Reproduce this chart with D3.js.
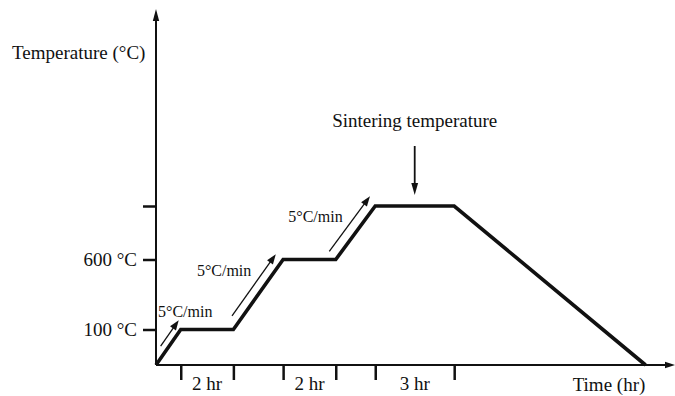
<!DOCTYPE html>
<html>
<head>
<meta charset="utf-8">
<script src="https://cdn.jsdelivr.net/npm/d3@7"></script>
<style>
  html, body { margin: 0; padding: 0; background: #fff; }
  svg { display: block; }
  text { font-family: "Liberation Serif", "Times New Roman", serif; fill: #111; }
</style>
</head>
<body>
<svg id="chart" width="675" height="396"></svg>
<script>
// ---- data (schematic firing profile) ----
const times = [0, 0.94, 2.94, 4.83, 6.83, 8.33, 11.33, 18.6];      // hours
const temps = [25, 100, 100, 600, 600, 1000, 1000, 25];             // °C (schematic)
const yTickValues = [100, 600, 1000];
const yTickLabels = ["100 °C", "600 °C", ""];
const xTickTimes = [0.94, 2.94, 4.83, 6.83, 8.33, 11.33];
const holdLabels = ["2 hr", "2 hr", "3 hr"];
const rampLabels = ["5°C/min", "5°C/min", "5°C/min"];
const yTitle = "Temperature (°C)";
const xTitle = "Time (hr)";
const sinterLabel = "Sintering temperature";

const svg = d3.select("#chart");
const W = 675, H = 396;
const x0 = 156, yAxisPos = 365;

const x = d3.scaleLinear().domain([0, 19.72]).range([x0, W]);
// schematic (piecewise) temperature axis
const y = d3.scaleLinear().domain([25, 100, 600, 1000]).range([yAxisPos, 329.5, 259.5, 206]);

function arrowHead(g, tipX, tipY, dx, dy, len, halfW) {
  const L = Math.hypot(dx, dy), ux = dx / L, uy = dy / L;
  const bx = tipX - ux * len, by = tipY - uy * len;
  const px = -uy, py = ux;
  g.append("path")
    .attr("d", `M${tipX},${tipY}L${bx + px * halfW},${by + py * halfW}L${bx - px * halfW},${by - py * halfW}Z`)
    .attr("fill", "#111");
}

// ---- axes ----
const axes = svg.append("g");
axes.append("line").attr("x1", x0).attr("x2", x0).attr("y1", yAxisPos).attr("y2", 14)
  .attr("stroke", "#111").attr("stroke-width", 2);
arrowHead(axes, x0, 9, 0, -1, 12, 3.2);
axes.append("line").attr("x1", x0).attr("x2", W - 6).attr("y1", yAxisPos).attr("y2", yAxisPos)
  .attr("stroke", "#111").attr("stroke-width", 1.8);
arrowHead(axes, W, yAxisPos, 1, 0, 10, 3.2);

// y ticks via d3 axis
const yAxis = d3.axisLeft(y).tickValues(yTickValues).tickSize(13).tickPadding(6)
  .tickFormat((d, i) => yTickLabels[i]);
const gy = svg.append("g").attr("transform", `translate(${x0},0)`).call(yAxis);
gy.select(".domain").remove();
gy.selectAll(".tick line").attr("stroke", "#111").attr("stroke-width", 2.5);
gy.selectAll(".tick text").attr("font-size", 19).attr("dy", "0.3em")
  .style("font-family", "'Liberation Serif', serif").attr("fill", "#111");

// x ticks via d3 axis
const xAxis = d3.axisBottom(x).tickValues(xTickTimes).tickSize(15).tickFormat("");
const gx = svg.append("g").attr("transform", `translate(0,${yAxisPos})`).call(xAxis);
gx.select(".domain").remove();
gx.selectAll(".tick line").attr("stroke", "#111").attr("stroke-width", 2.5);

// hold labels between ticks
holdLabels.forEach((lab, i) => {
  const a = xTickTimes[i * 2], b = xTickTimes[i * 2 + 1];
  svg.append("text").attr("x", x((a + b) / 2)).attr("y", 390)
    .attr("text-anchor", "middle").attr("font-size", 19).text(lab);
});

// titles
svg.append("text").attr("x", 12).attr("y", 59).attr("font-size", 19).text(yTitle);
svg.append("text").attr("x", 609).attr("y", 391).attr("text-anchor", "middle")
  .attr("font-size", 19).text(xTitle);

// ---- profile ----
const pts = times.map((t, i) => [t, temps[i]]);
svg.append("path").datum(pts)
  .attr("d", d3.line().x(d => x(d[0])).y(d => y(d[1])))
  .attr("fill", "none").attr("stroke", "#111").attr("stroke-width", 3.6)
  .attr("stroke-linejoin", "miter");

// ---- ramp arrows & rate labels ----
const ramps = [[0, 1], [2, 3], [4, 5]];
const rampArrowSpan = [[0.42, 1.15], [0.12, 1.0], [0.04, 1.07]];
const rampOffset = [7, 9, 10];
const labelOffsets = [[2, -48], [-36.5, -53.5], [-47.5, -37.5]];
ramps.forEach(([a, b], i) => {
  const sx = x(times[a]), sy = y(temps[a]), ex = x(times[b]), ey = y(temps[b]);
  const dx = ex - sx, dy = ey - sy, L = Math.hypot(dx, dy);
  const ux = dx / L, uy = dy / L;
  const px = uy, py = -ux;
  const off = rampOffset[i];
  const [t0, t1] = rampArrowSpan[i];
  const ax1 = sx + ux * L * t0 + px * off, ay1 = sy + uy * L * t0 + py * off;
  const ax2 = sx + ux * L * t1 + px * off, ay2 = sy + uy * L * t1 + py * off;
  const g = svg.append("g");
  g.append("line").attr("x1", ax1).attr("y1", ay1)
    .attr("x2", ax2 - ux * 6).attr("y2", ay2 - uy * 6)
    .attr("stroke", "#111").attr("stroke-width", 1.3);
  arrowHead(g, ax2, ay2, ux, uy, 10, 3.6);
  svg.append("text").attr("x", sx + labelOffsets[i][0]).attr("y", sy + labelOffsets[i][1])
    .attr("font-size", 16).text(rampLabels[i]);
});

// ---- sintering annotation ----
const sx = x((times[5] + times[6]) / 2);
const topY = y(temps[5]);
svg.append("text").attr("x", sx).attr("y", 127).attr("text-anchor", "middle")
  .attr("font-size", 19).text(sinterLabel);
svg.append("line").attr("x1", sx).attr("x2", sx).attr("y1", 146).attr("y2", topY - 18)
  .attr("stroke", "#111").attr("stroke-width", 1.8);
arrowHead(svg, sx, topY - 11, 0, 1, 12, 3.4);
</script>
</body>
</html>
